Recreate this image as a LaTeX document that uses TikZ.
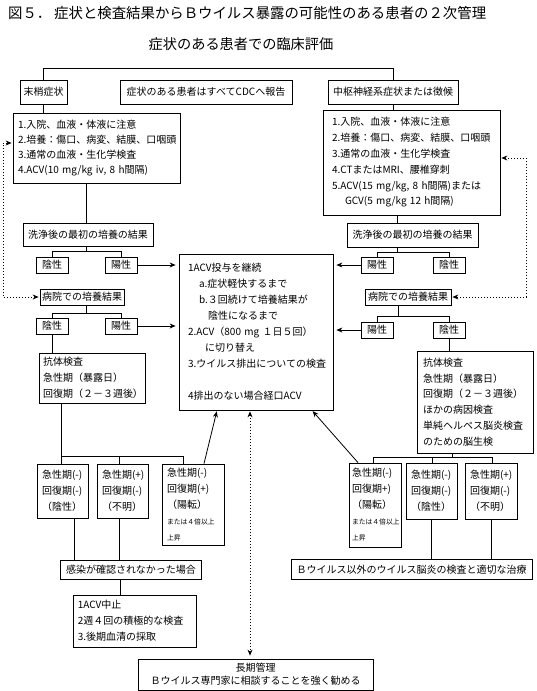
\documentclass[tikz,border=0pt]{standalone}
\usepackage{fontspec}
\setmainfont{Noto Sans CJK JP}
\usetikzlibrary{arrows.meta}
\newcommand\smtxt{\fontsize{6.8}{8}\selectfont}
\begin{document}
\begin{tikzpicture}[x=1pt,y=-1pt,
  bx/.style={draw,line width=0.8pt,inner sep=0pt,font=\fontsize{10}{12}\selectfont,align=center},
  mb/.style={draw,line width=0.8pt,inner ysep=0pt,align=left,font=\fontsize{10}{16}\selectfont},
  ln/.style={line width=0.8pt},
  arr/.style={line width=0.8pt,-{Stealth[length=6pt,width=5pt]},shorten >=3pt},
  darr/.style={line width=0.8pt,dash pattern=on 1.2pt off 1.8pt,{Stealth[length=6pt,width=5pt]}-{Stealth[length=6pt,width=5pt]},shorten <=1pt,shorten >=1pt}
]
\useasboundingbox[fill=white] (0,0) rectangle (536,691);

% titles
\node[anchor=west,inner sep=0pt,font=\fontsize{14.4}{16}\selectfont] (fig) at (8,13) {図５．};
\node[anchor=west,inner sep=0pt,font=\fontsize{14.4}{16}\selectfont] (title) at (54,13) {症状と検査結果からＢウイルス暴露の可能性のある患者の２次管理};
\node[inner sep=0pt,font=\fontsize{14.2}{16}\selectfont] (sub) at (241,44) {症状のある患者での臨床評価};

% top row
\node[bx,minimum width=47pt,minimum height=24pt] (P) at (43.5,92) {末梢症状};
\node[bx,minimum width=172pt,minimum height=24pt] (CDC) at (206,92) {症状のある患者はすべてCDCへ報告};
\node[bx,minimum width=130pt,minimum height=24pt] (C) at (393,92) {中枢神経系症状または徴候};
\coordinate (top) at (0,68);
\draw[ln] (P.north) -- (P.north |- top) -- (C.north |- top) -- (C.north);

% first boxes
\node[mb,font=\fontsize{10}{15}\selectfont,minimum width=167pt,minimum height=70pt,inner xsep=5pt,text width=157pt] (L1) at (96.5,148)
 {1.入院、血液・体液に注意\\2.培養：傷口、病変、結膜、口咽頭\\3.通常の血液・生化学検査\\4.ACV(10 mg/kg iv, 8 h間隔)};
\node[mb,font=\fontsize{10}{15.8}\selectfont,minimum width=177pt,minimum height=105pt,inner xsep=9pt,text width=159pt] (R1) at (411.5,162.5)
 {1.入院、血液・体液に注意\\2.培養：傷口、病変、結膜、口咽頭\\3.通常の血液・生化学検査\\4.CTまたはMRI、腰椎穿刺\\5.ACV(15 mg/kg, 8 h間隔)または\\\hspace*{13pt}GCV(5 mg/kg 12 h間隔)};
\draw[ln] (P.south) -- (P.south |- L1.north);
\draw[ln] (C.south) -- (C.south |- R1.north);

% wash results
\node[bx,minimum width=130pt,minimum height=23pt] (LW) at (88,234.5) {洗浄後の最初の培養の結果};
\node[bx,minimum width=131pt,minimum height=24pt] (RW) at (412.5,235) {洗浄後の最初の培養の結果};
\coordinate (lv) at (86,0);
\coordinate (rv) at (397,0);
\draw[ln] (lv |- L1.south) -- (lv |- LW.north);
\draw[ln] (rv |- R1.south) -- (rv |- RW.north);

% first pos/neg
\node[bx,minimum width=32pt,minimum height=16pt] (LN1) at (52,265) {陰性};
\node[bx,minimum width=32pt,minimum height=16pt] (LP1) at (121,265) {陽性};
\node[bx,minimum width=32pt,minimum height=16pt] (RP1) at (377,265) {陽性};
\node[bx,minimum width=32pt,minimum height=16pt] (RN1) at (449,265) {陰性};
\coordinate (lb1) at (86,251);
\coordinate (rb1) at (397,252);
\draw[ln] (lb1 |- LW.south) -- (lb1);
\draw[ln] (LN1.north) -- (LN1.north |- lb1) -- (LP1.north |- lb1) -- (LP1.north);
\draw[ln] (rb1 |- RW.south) -- (rb1);
\draw[ln] (RP1.north) -- (RP1.north |- rb1) -- (RN1.north |- rb1) -- (RN1.north);

% hospital culture
\node[bx,minimum width=84pt,minimum height=16pt] (LH) at (82,297) {病院での培養結果};
\node[bx,minimum width=86pt,minimum height=16pt] (RH) at (408,297) {病院での培養結果};

% second pos/neg
\node[bx,minimum width=32pt,minimum height=16pt] (LN2) at (52,326) {陰性};
\node[bx,minimum width=32pt,minimum height=16pt] (LP2) at (121,326) {陽性};
\node[bx,minimum width=32pt,minimum height=16pt] (RP2) at (377,330) {陽性};
\node[bx,minimum width=32pt,minimum height=16pt] (RN2) at (449,330) {陰性};
\coordinate (lb2) at (86,313);
\coordinate (rb2) at (398,316);
\draw[ln] (lb2 |- LH.south) -- (lb2);
\draw[ln] (LN2.north) -- (LN2.north |- lb2) -- (LP2.north |- lb2) -- (LP2.north);
\draw[ln] (rb2 |- RH.south) -- (rb2);
\draw[ln] (RP2.north) -- (RP2.north |- rb2) -- (RN2.north |- rb2) -- (RN2.north);

% center box
\node[mb,minimum width=154pt,minimum height=156pt,inner xsep=9pt,text width=136pt] (CB) at (256,332)
 {1ACV投与を継続\\\hspace*{11pt}a.症状軽快するまで\\\hspace*{11pt}b.３回続けて培養結果が\\\hspace*{20pt}陰性になるまで\\2.ACV（800 mg １日５回）\\\hspace*{17pt}に切り替え\\3.ウイルス排出についての検査\\\mbox{}\\4排出のない場合経口ACV};
\draw[arr] (LP1.east) -- (LP1.east -| CB.west);
\draw[arr] (LP2.east) -- (LP2.east -| CB.west);
\draw[arr] (RP1.west) -- (RP1.west -| CB.east);
\draw[arr] (RP2.west) -- (RP2.west -| CB.east);

% antibody boxes
\node[mb,minimum width=106pt,minimum height=50pt,inner xsep=4pt,text width=98pt] (LA) at (92,378)
 {抗体検査\\急性期（暴露日）\\回復期（２－３週後）};
\node[mb,font=\fontsize{10}{15.8}\selectfont,minimum width=116pt,minimum height=102pt,inner xsep=6pt,text width=104pt] (RA) at (475,402)
 {抗体検査\\急性期（暴露日）\\回復期（２－３週後）\\ほかの病因検査\\単純ヘルペス脳炎検査\\のための脳生検};
\draw[ln] (LN2.south) -- (LN2.south |- LA.north);
\draw[ln] (RN2.south) -- (RN2.south |- RA.north);

% left results
\node[mb,minimum width=51pt,minimum height=54pt,inner xsep=5pt,text width=41pt] (A1) at (62.5,491) {急性期(-)\\回復期(-)\\（陰性）};
\node[mb,minimum width=51pt,minimum height=54pt,inner xsep=5pt,text width=41pt] (A2) at (122.5,491) {急性期(+)\\回復期(-)\\（不明）};
\node[mb,minimum width=62pt,minimum height=81pt,inner xsep=5pt,text width=52pt] (A3) at (193,504.5) {急性期(-)\\回復期(+)\\（陽転）\\{\smtxt または４倍以上}\\{\smtxt 上昇}};
\coordinate (lbA) at (61,456);
\coordinate (lbB) at (119,456);
\coordinate (lbC) at (183,456);
\draw[ln] (lbA |- LA.south) -- (lbA) -- (lbC) -- (lbC |- A3.north);
\draw[ln] (lbA) -- (lbA |- A1.north);
\draw[ln] (lbB) -- (lbB |- A2.north);

% right results
\node[mb,minimum width=52pt,minimum height=84pt,inner xsep=3pt,text width=46pt] (RA1) at (375,505) {急性期(-)\\回復期+)\\（陽転）\\{\smtxt または４倍以上}\\{\smtxt 上昇}};
\node[mb,minimum width=51pt,minimum height=56pt,inner xsep=5pt,text width=41pt] (RA2) at (431.5,491) {急性期(-)\\回復期(-)\\（陰性）};
\node[mb,minimum width=52pt,minimum height=56pt,inner xsep=5pt,text width=42pt] (RA3) at (491,491) {急性期(+)\\回復期(-)\\（不明）};
\coordinate (rbA) at (373,457);
\coordinate (rbB) at (432,457);
\coordinate (rbC) at (492,457);
\coordinate (rbM) at (452,457);
\draw[ln] (rbM |- RA.south) -- (rbM);
\draw[ln] (rbA |- RA1.north) -- (rbA) -- (rbC) -- (rbC |- RA3.north);
\draw[ln] (rbB) -- (rbB |- RA2.north);

% arrows up into center box
\draw[arr,shorten >=1pt] ([xshift=11pt]A3.north) -- ([xshift=-39pt]CB.south);
\draw[arr,shorten >=1pt] ([xshift=-17pt]RA1.north) -- ([xshift=56pt]CB.south);

% bottom boxes
\node[bx,minimum width=141pt,minimum height=19pt] (NI) at (131,569.5) {感染が確認されなかった場合};
\node[mb,minimum width=122.5pt,minimum height=52pt,inner xsep=4pt,text width=114.5pt] (NA) at (135,621) {1ACV中止\\2週４回の積極的な検査\\3.後期血清の採取};
\node[bx,minimum width=241pt,minimum height=20pt] (BV) at (411.5,569.5) {Ｂウイルス以外のウイルス脳炎の検査と適切な治療};
\node[bx,font=\fontsize{10}{13}\selectfont,minimum width=235pt,minimum height=31pt] (LT) at (255.5,674.5) {長期管理\\Ｂウイルス専門家に相談することを強く勧める};

\draw[ln] ([xshift=11.5pt]A1.south) -- ([xshift=11.5pt]A1.south |- NI.north);
\draw[ln] ([xshift=-3.5pt]A2.south) -- ([xshift=-3.5pt]A2.south |- NI.north);
\draw[ln] ([xshift=-11pt]NI.south) -- ([xshift=-11pt]NI.south |- NA.north);
\draw[ln] (RA2.south) -- (RA2.south |- BV.north);
\draw[ln] (RA3.south) -- (RA3.south |- BV.north);

% dotted connectors
\draw[darr,shorten >=3pt] ([xshift=-6pt]CB.south) -- ([xshift=-6pt]CB.south |- LT.north);
\coordinate (ld) at (3,0);
\coordinate (rd) at (526,0);
\draw[darr] (LH.west) -- (ld |- LH.west) |- ([yshift=5pt]L1.west);
\draw[darr] ([yshift=4.5pt]R1.east) -| (rd |- RH.east) -- (RH.east);
\end{tikzpicture}
\end{document}
